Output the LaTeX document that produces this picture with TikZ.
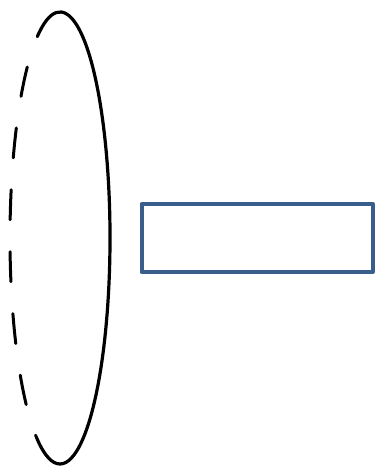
\documentclass[tikz,border=0pt]{standalone}
\usepackage{tikz}
\definecolor{boxblue}{RGB}{58,94,140}

\begin{document}
\begin{tikzpicture}[x=1pt,y=1pt,line cap=round]
  \useasboundingbox (0,0) rectangle (379,473);
  % ring seen edge-on
  \draw[line width=3.2pt] (60,235) ++(117:50 and 226) arc[start angle=117,end angle=-117,x radius=50,y radius=226];
  \draw[line width=3pt,dash pattern=on 30pt off 32pt,dash phase=30pt]
    (60,235) ++(117:50 and 226) arc[start angle=117,end angle=243,x radius=50,y radius=226];
  % plate
  \draw[boxblue,line width=4pt,line join=round] (141.5,201) rectangle (372.5,269);
\end{tikzpicture}
\end{document}
